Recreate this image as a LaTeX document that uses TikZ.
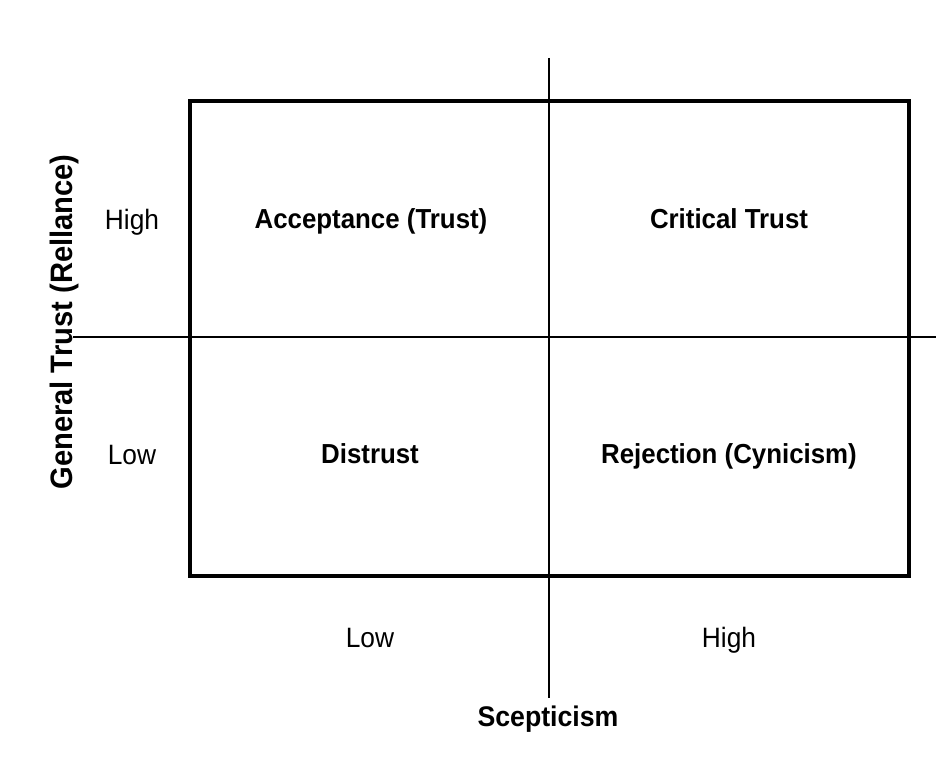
\documentclass[tikz,border=0pt]{standalone}
\usepackage{fontspec}
\setmainfont{Liberation Sans}[FakeStretch=0.94]
\begin{document}
\begin{tikzpicture}[x=1pt,y=-1pt,
  frame/.style={line width=4.5pt},
  axis/.style={line width=1.6pt},
  quad/.style={font=\fontsize{27.5}{32}\selectfont\bfseries, anchor=base},
  lvl/.style={font=\fontsize{28}{32}\selectfont, anchor=base},
  ttl/.style={font=\fontsize{28.4}{34}\selectfont\bfseries, anchor=base}]
\useasboundingbox (0,0) rectangle (936,768);
\fill[white] (0,0) rectangle (936,768);
% axes
\coordinate (vtop) at (549,58);
\coordinate (vbot) at (549,698);
\coordinate (hleft) at (73,337);
\coordinate (hright) at (936,337);
\draw[axis] (vtop) -- (vbot);
\draw[axis] (hleft) -- (hright);
% frame
\coordinate (fa) at (190,101);
\coordinate (fb) at (909,576);
\draw[frame] (fa) rectangle (fb);
% quadrants
\node[quad] (acc) at (371,228) {Acceptance (Trust)};
\node[quad] (crit) at (729,228) {Critical Trust};
\node[quad] (dis) at (370,463) {Distrust};
\node[quad] (rej) at (729,463) {Rejection (Cynicism)};
% levels
\node[lvl] (yh) at (132,229) {High};
\node[lvl] (yl) at (132,464) {Low};
\node[lvl] (xl) at (370,647) {Low};
\node[lvl] (xh) at (729,647) {High};
% titles
\node[ttl] (xt) at (548,726) {Scepticism};
\node[ttl, font=\fontsize{31}{36}\selectfont\bfseries, rotate=90] (yt) at (72,322) {General Trust (Rellance)};
\end{tikzpicture}
\end{document}
